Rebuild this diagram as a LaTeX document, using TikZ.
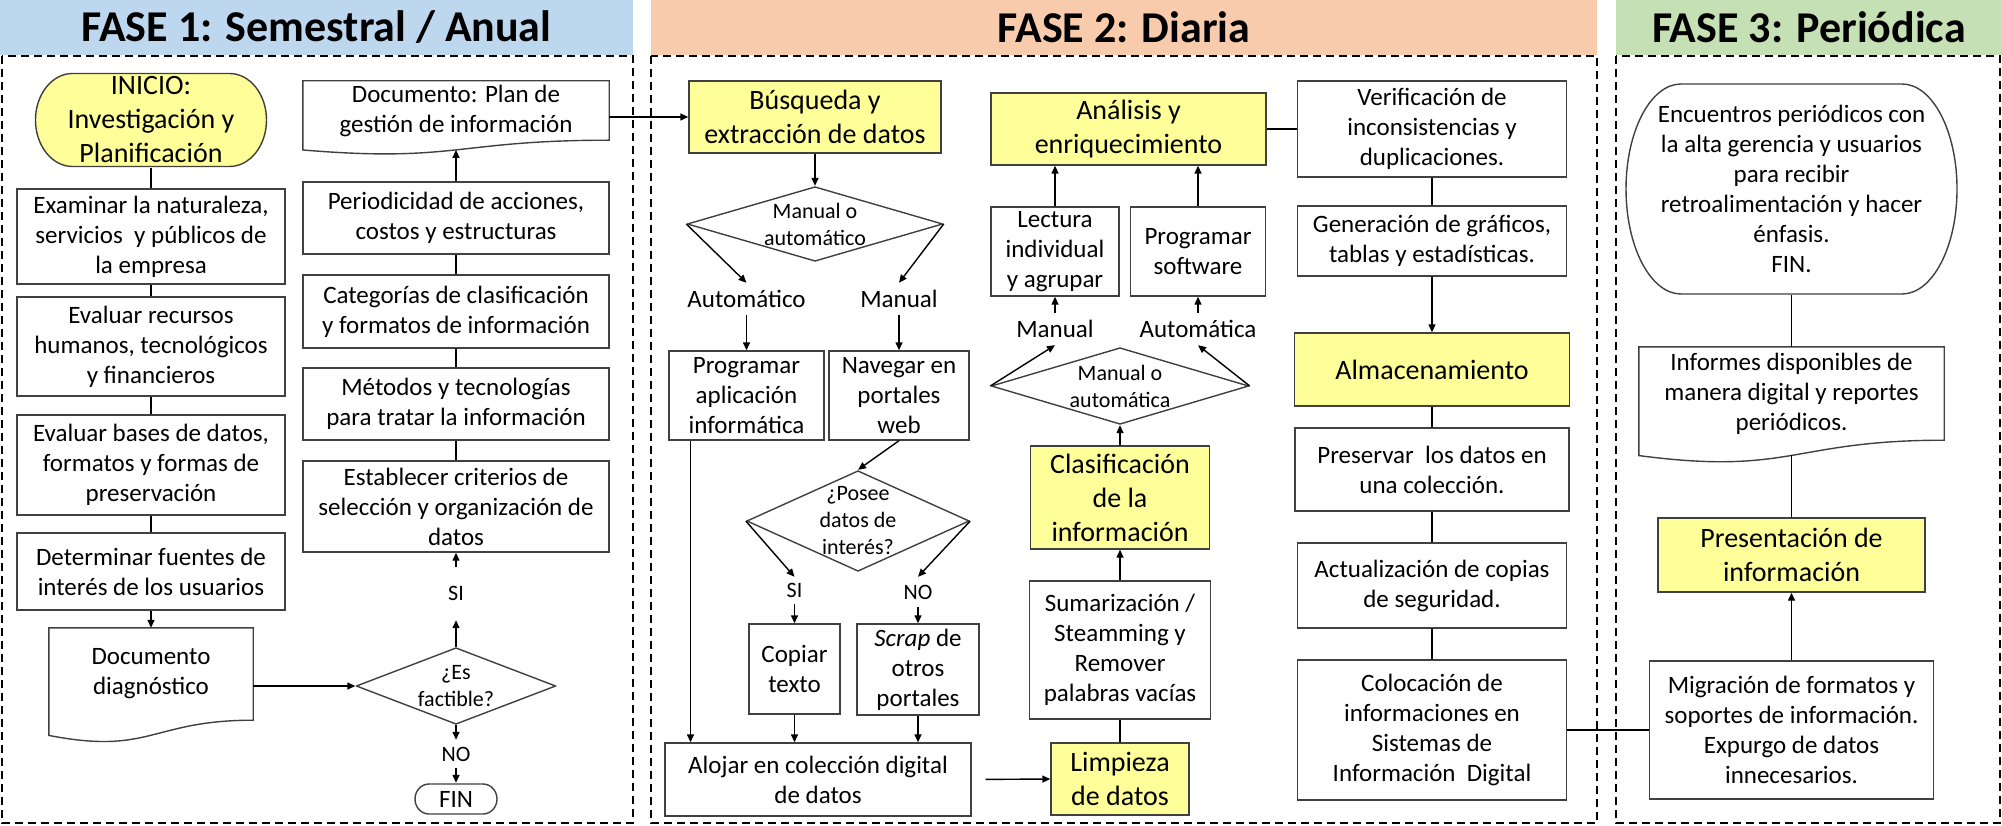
\documentclass[tikz,border=0pt]{standalone}
\usepackage{fontspec}
\setmainfont{Carlito}
\usetikzlibrary{calc}
\usetikzlibrary{arrows.meta}

\definecolor{fase1}{HTML}{BDD7EE}
\definecolor{fase2}{HTML}{F8CBAD}
\definecolor{fase3}{HTML}{C5E0B4}
\definecolor{amarillo}{HTML}{FFFF99}
\definecolor{borde}{HTML}{404040}

\newcommand{\txtbody}{\fontsize{25}{30}\selectfont}
\newcommand{\txtbig}{\fontsize{28}{34}\selectfont}
\newcommand{\txtsmall}{\fontsize{22}{27}\selectfont}
\newcommand{\txthead}{\bfseries\fontsize{44}{50}\selectfont}

% contorno de documento (borde inferior ondulado)
\newcommand{\docoutline}[1]{%
  \draw[outline] (#1.north west) -- (#1.north east) -- (#1.south east)
    .. controls (#1.south) and ($(#1.north)!1.38!(#1.south)$)
    .. ($(#1.north west)!1.1646!(#1.south west)$) -- cycle;}

\begin{document}
\begin{tikzpicture}
[x=1pt,y=-1pt,>={Triangle[length=8pt,width=7pt]},%
  every node/.style={font=\txtbody,align=center,inner sep=2pt},%
  outline/.style={draw=borde,line width=1.4pt},%
  box/.style={rectangle,outline},%
  ybox/.style={box,fill=amarillo,font=\txtbig},%
  doc/.style={rectangle},%
  decision/.style={rectangle,fill=white,font=\txtsmall,
    path picture={\draw[outline]
      ([yshift=-1pt]path picture bounding box.north) --
      ([xshift=-1pt]path picture bounding box.east) --
      ([yshift=1pt]path picture bounding box.south) --
      ([xshift=1pt]path picture bounding box.west) -- cycle;}},%
  term/.style n args={3}{rectangle,fill=white,
    path picture={\draw[outline,fill=#3]
      ([xshift=#1+1pt,yshift=-1pt]path picture bounding box.north west) --
      ([xshift=-#1-1pt,yshift=-1pt]path picture bounding box.north east)
      arc[start angle=90,end angle=-90,x radius=#1,y radius=#2] --
      ([xshift=#1+1pt,yshift=1pt]path picture bounding box.south west)
      arc[start angle=270,end angle=90,x radius=#1,y radius=#2] -- cycle;}},%
  lbl/.style={inner sep=0pt,minimum width=20},%
  band/.style={rectangle,inner sep=0pt,font=\txthead,minimum height=55},%
  frame/.style={draw=black,line width=2.6pt,dash pattern=on 8pt off 5pt},%
  conn/.style={draw=black,line width=1.4pt},%
  arr/.style={conn,->}]
\useasboundingbox (0,0) rectangle (2002,826);
%% encabezados y marcos
\node[band,fill=fase1,minimum width=633] (f1) at (316.5,27.5) {FASE 1: Semestral / Anual};
\node[band,fill=fase2,minimum width=946] (f2) at (1124,27.5) {FASE 2: Diaria};
\node[band,fill=fase3,minimum width=386] (f3) at (1809,27.5) {FASE 3: Periódica};
\draw[frame] (2,56) rectangle (633,823);
\draw[frame] (651,56) rectangle (1597,823);
\draw[frame] (1616,56) rectangle (2000,823);
%% fase 1
\node[term={37pt}{46.5pt}{amarillo},font=\txtbig,minimum width=233,minimum height=95]
  (inicio) at (151,120) {INICIO:\\Investigación y\\Planificación};
\node[box,minimum width=268,minimum height=95] (examinar) at (151,236.5)
  {Examinar la naturaleza,\\servicios\ \ y públicos de\\la empresa};
\node[box,minimum width=268,minimum height=99] (recursos) at (151,346.5)
  {Evaluar recursos\\humanos, tecnológicos\\y financieros};
\node[box,minimum width=268,minimum height=100] (bases) at (151,465)
  {Evaluar bases de datos,\\formatos y formas de\\preservación};
\node[box,minimum width=268,minimum height=77] (fuentes) at (151,571.5)
  {Determinar fuentes de\\interés de los usuarios};
\node[doc,minimum width=204,minimum height=92] (diag) at (151,674)
  {Documento\\diagnóstico};
\node[decision,minimum width=201,minimum height=78] (factible) at (456,686)
  {¿Es\\factible?};
\node[lbl,font=\txtsmall,minimum height=53] (si) at (456,593.5) {SI};
\node[lbl,font=\txtsmall,minimum height=28] (no) at (456,754) {NO};
\node[term={14pt}{15pt}{white},minimum width=84,minimum height=32] (fin) at (456,799) {FIN};
%%
\node[box,minimum width=306,minimum height=91] (establecer) at (456,506.5)
  {Establecer criterios de\\selección y organización de\\datos};
\node[box,minimum width=306,minimum height=72] (metodos) at (456,404)
  {Métodos y tecnologías\\para tratar la información};
\node[box,minimum width=306,minimum height=73] (categorias) at (456,311.5)
  {Categorías de clasificación\\y formatos de información};
\node[box,minimum width=306,minimum height=72] (periodo) at (456,218)
  {Periodicidad de acciones,\\costos y estructuras};
\node[doc,minimum width=306,minimum height=59] (plan) at (456,110.5)
  {Documento: Plan de\\gestión de información};
%% fase 2
\node[ybox,minimum width=252,minimum height=72] (busqueda) at (815,117)
  {Búsqueda y\\extracción de datos};
\node[decision,minimum width=257,minimum height=76] (dman1) at (815,224)
  {Manual o\\automático};
\node[lbl,minimum height=32] (lauto) at (746.5,299) {Automático};
\node[lbl,minimum height=32] (lmanual) at (899,299) {Manual};
\node[box,minimum width=155,minimum height=89] (progapp) at (746.5,395.5)
  {Programar\\aplicación\\informática};
\node[box,minimum width=140,minimum height=89] (navegar) at (899,395.5)
  {Navegar en\\portales\\web};
\node[decision,minimum width=224,minimum height=102] (dposee) at (858,521)
  {¿Posee\\datos de\\interés?};
\node[lbl,font=\txtsmall,minimum height=27] (lsi) at (794.5,590.5) {SI};
\node[lbl,font=\txtsmall,minimum height=30] (lno) at (918,592) {NO};
\node[box,minimum width=91,minimum height=90] (copiar) at (794.5,669)
  {Copiar\\texto};
\node[box,minimum width=122,minimum height=91] (scrap) at (918,669.5)
  {\textit{Scrap} de\\otros\\portales};
\node[box,minimum width=306,minimum height=73] (alojar) at (818,779.5)
  {Alojar en colección digital\\de datos};
%%
\node[ybox,minimum width=138,minimum height=72] (limpieza) at (1120,779)
  {Limpieza\\de datos};
\node[box,minimum width=181,minimum height=138] (sumar) at (1120,650)
  {Sumarización /\\Steamming y\\Remover\\palabras vacías};
\node[ybox,minimum width=179,minimum height=103] (clasif) at (1120,497.5)
  {Clasificación\\de la\\información};
\node[decision,minimum width=259,minimum height=78] (dman2) at (1120,386)
  {Manual o\\automática};
\node[lbl,minimum height=32] (lman2) at (1055,329) {Manual};
\node[lbl,minimum height=32] (laut2) at (1198,329) {Automática};
\node[box,minimum width=128,minimum height=89] (lectura) at (1055,251.5)
  {Lectura\\individual\\y agrupar};
\node[box,minimum width=135,minimum height=89] (progsoft) at (1198,251.5)
  {Programar\\software};
\node[ybox,minimum width=275,minimum height=72] (analisis) at (1128.5,129)
  {Análisis y\\enriquecimiento};
%%
\node[box,minimum width=269,minimum height=96] (verif) at (1432,129)
  {Verificación de\\inconsistencias y\\duplicaciones.};
\node[box,minimum width=269,minimum height=70] (gener) at (1432,241)
  {Generación de gráficos,\\tablas y estadísticas.};
\node[ybox,minimum width=275,minimum height=73] (almac) at (1432,369.5)
  {Almacenamiento};
\node[box,minimum width=274,minimum height=83] (preserv) at (1432,469.5)
  {Preservar\ \ los datos en\\una colección.};
\node[box,minimum width=269,minimum height=85] (actual) at (1432,585.5)
  {Actualización de copias\\de seguridad.};
\node[box,minimum width=269,minimum height=140] (coloc) at (1432,730)
  {Colocación de\\informaciones en\\Sistemas de\\Información\ \ Digital};
%% fase 3
\node[term={55pt}{105pt}{white},minimum width=333,minimum height=212] (encuentros) at (1791.5,189)
  {Encuentros periódicos con\\la alta gerencia y usuarios\\para recibir\\retroalimentación y hacer\\énfasis.\\FIN.};
\node[doc,minimum width=305,minimum height=93] (informes) at (1791.5,393.5)
  {Informes disponibles de\\manera digital y reportes\\periódicos.};
\node[ybox,minimum width=267,minimum height=74] (present) at (1791.5,555)
  {Presentación de\\información};
\node[box,minimum width=284,minimum height=138] (migr) at (1791.5,730)
  {Migración de formatos y\\soportes de información.\\Expurgo de datos\\innecesarios.};
%% contornos de documento
\docoutline{diag}
\docoutline{plan}
\docoutline{informes}
\coordinate (planbot) at ($(plan.north)!1.163!(plan.south)$);
\coordinate (infobot) at ($(informes.north)!1.163!(informes.south)$);
%% conectores
\path
\foreach \startNode/\endNode in {inicio/examinar, examinar/recursos, recursos/bases,
  bases/fuentes, establecer/metodos, metodos/categorias, categorias/periodo,
  limpieza/sumar, analisis/verif, verif/gener, almac/preserv, preserv/actual,
  actual/coloc, coloc/migr, encuentros/informes}
{
  (\startNode) edge[conn] (\endNode)
};
\path
\foreach \startNode/\endNode in {fuentes/diag, factible/si, si/establecer, factible/no,
  no/fin, busqueda/dman1, lauto/progapp, lmanual/navegar, lsi/copiar, lno/scrap,
  sumar/clasif, clasif/dman2, lman2/lectura, laut2/progsoft, gener/almac, migr/present}
{
  (\startNode) edge[arr] (\endNode)
};
\draw[arr] (periodo) -- (planbot);
\draw[arr] (factible.west -| diag.east) -- (factible.west);
\draw[arr] (busqueda.west -| plan.east) -- (busqueda.west);
\draw[arr] (dman1.west) -- (lauto.north);
\draw[arr] (dman1.east) -- (lmanual.north);
\draw[arr] (navegar.south) -- (dposee.north);
\draw[arr] (dposee.west) -- (lsi.north);
\draw[arr] (dposee.east) -- (lno.north);
\draw[arr] ([xshift=-56pt]progapp.south) -- ([xshift=-56pt]progapp.south |- alojar.north);
\draw[arr] (copiar.south) -- (copiar.south |- alojar.north);
\draw[arr] (scrap.south) -- (scrap.south |- alojar.north);
\draw[arr,shorten <=14pt] (alojar.east) -- (limpieza.west);
\draw[arr] (dman2.west) -- (lman2.south);
\draw[arr] (dman2.east) -- (laut2.south);
\draw[arr] (lectura.north) -- (lectura.north |- analisis.south);
\draw[arr] (progsoft.north) -- (progsoft.north |- analisis.south);
\draw[conn] (present) -- (infobot);
\end{tikzpicture}
\end{document}
